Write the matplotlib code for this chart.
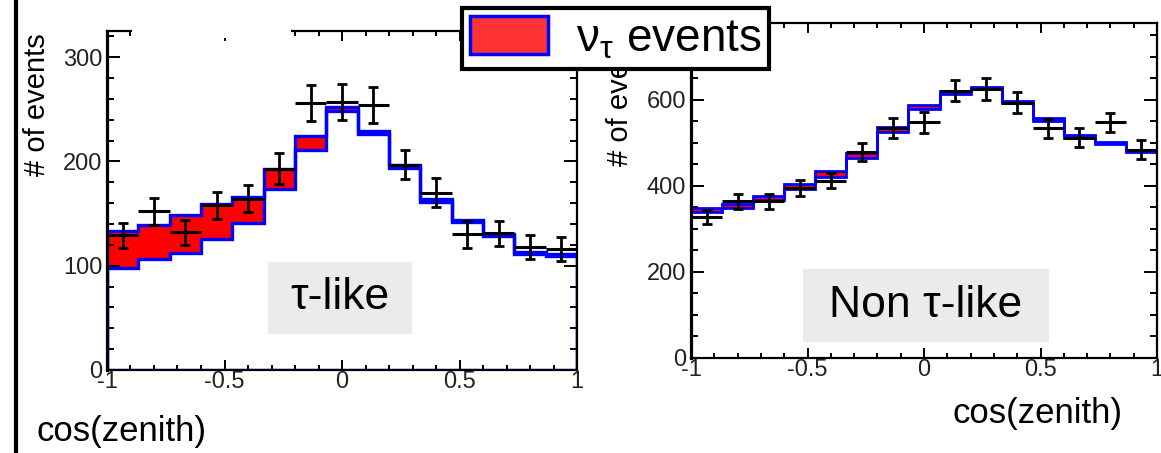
import numpy as np
import matplotlib
matplotlib.use("Agg")
import matplotlib.pyplot as plt
from matplotlib.patches import Patch, Rectangle
from matplotlib.lines import Line2D
from matplotlib.ticker import MultipleLocator, FormatStrFormatter

plt.rcParams['font.family'] = ['Liberation Sans', 'DejaVu Sans']
plt.rcParams['mathtext.fontset'] = 'custom'
plt.rcParams['mathtext.rm'] = 'Liberation Sans'
plt.rcParams['mathtext.it'] = 'Liberation Sans'
plt.rcParams['axes.unicode_minus'] = False

# 15 bins in cos(zenith)
bin_edges = np.linspace(-1, 1, 16)

# tau-like sample
tau_total = [133, 139, 149, 159, 166, 193, 224, 252, 229, 197, 164, 144, 130, 113, 111]
tau_bkg = [98, 106, 112, 126, 141, 174, 211, 248, 226, 194, 161, 142, 128, 111, 109]
tau_data = [129, 152, 132, 158, 164, 193, 256, 257, 254, 197, 170, 130, 131, 118, 116]
tau_err = [12, 13, 12, 13, 13, 15, 17, 17, 17, 14, 14, 13, 12, 11.5, 11.5]

# non tau-like sample
non_total = [349, 357, 377, 403, 434, 477, 537, 588, 620, 630, 597, 558, 518, 502, 482]
non_bkg = [339, 349, 366, 392, 420, 465, 524, 579, 612, 624, 592, 551, 512, 498, 478]
non_data = [327, 364, 364, 395, 412, 478, 535, 547, 621, 625, 593, 533, 512, 547, 484]
non_err = [16, 18, 18, 18, 18, 21, 23, 24, 25, 25, 24, 23, 23, 23, 22]

x_ticks = [-1, -0.5, 0, 0.5, 1]


def draw_panel(ax, total, bkg, data, err, ymax, ymajor, yminor, label, box, lw):
    centers = 0.5 * (bin_edges[:-1] + bin_edges[1:])
    half = 0.5 * np.diff(bin_edges)

    ax.stairs(total, bin_edges, baseline=bkg, fill=True, color='red', lw=0, zorder=1)
    ax.stairs(total, bin_edges, baseline=0, color='blue', lw=lw, zorder=2)
    ax.stairs(bkg, bin_edges, baseline=0, color='blue', lw=lw, zorder=2)
    ax.plot([bin_edges[0], bin_edges[-1]], [0, 0], color='blue', lw=lw, zorder=2)

    ax.errorbar(centers, data, yerr=err, fmt='none', ecolor='black',
                elinewidth=2.0, capsize=3.5, capthick=2.0, zorder=3)
    ax.errorbar(centers, data, xerr=half, fmt='none', ecolor='black',
                elinewidth=2.2, zorder=3)

    ax.set_xlim(-1, 1)
    ax.set_ylim(0, ymax)
    ax.set_xticks(x_ticks)
    ax.xaxis.set_major_formatter(FormatStrFormatter('%g'))
    ax.xaxis.set_minor_locator(MultipleLocator(0.1))
    ax.yaxis.set_major_locator(MultipleLocator(ymajor))
    ax.yaxis.set_minor_locator(MultipleLocator(yminor))
    ax.tick_params(which='both', direction='in', top=True, right=True,
                   width=1.4, labelsize=17, labelcolor='#222222')
    ax.tick_params(axis='x', which='major', length=7, pad=1)
    ax.tick_params(axis='x', which='minor', length=3.8)
    ax.tick_params(axis='y', which='major', length=9.5, pad=3.5)
    ax.tick_params(axis='y', which='minor', length=5)
    for sp in ax.spines.values():
        sp.set_linewidth(1.6)
    ax.spines['left'].set_linewidth(2.3)

    bx0, by0, bx1, by1 = box
    ax.add_patch(Rectangle((bx0, by0), bx1 - bx0, by1 - by0, transform=ax.transAxes,
                           facecolor='#ebebeb', edgecolor='none', zorder=0.5))
    ax.text(0.5 * (bx0 + bx1), 0.5 * (by0 + by1), label, transform=ax.transAxes,
            ha='center', va='center', fontsize=32, zorder=4)


fig = plt.figure(figsize=(11.61, 4.53), dpi=100)
W, H = 1161, 453

ax1 = fig.add_axes([107 / W, 1 - 370 / H, 470 / W, 339 / H])
ax2 = fig.add_axes([691 / W, 1 - 358 / H, 466 / W, 335 / H])

draw_panel(ax1, tau_total, tau_bkg, tau_data, tau_err, 325, 100, 20,
           'τ-like', (0.343, 0.106, 0.649, 0.319), 2.4)
draw_panel(ax2, non_total, non_bkg, non_data, non_err, 778, 200, 50,
           'Non τ-like', (0.240, 0.048, 0.768, 0.266), 2.0)

for ax in (ax1, ax2):
    ax.set_ylabel('# of events', fontsize=21)
ax1.yaxis.set_label_coords(-0.119, 0.782)
ax2.yaxis.set_label_coords(-0.122, 0.787)

ax1.set_xlabel('cos(zenith)', fontsize=25, ha='left')
ax1.xaxis.set_label_coords(-0.151, -0.133)
ax2.set_xlabel('cos(zenith)', fontsize=25, ha='right')
ax2.xaxis.set_label_coords(0.927, -0.116)

# slide border and the title box cutting the top of the left frame
fig.add_artist(Line2D([16 / W, 16 / W], [0, 1], color='black', lw=3))
fig.add_artist(Rectangle((132 / W, 1 - 38 / H), 159 / W, 38 / H,
                         facecolor='white', edgecolor='none', zorder=3))

handle = Patch(facecolor='#ff3333', edgecolor='blue', linewidth=2.5)
leg = fig.legend([handle], [r'$\mathrm{\nu_\tau}$ events'], loc='upper left',
                 bbox_to_anchor=(462 / W, 1 - 8 / H), bbox_transform=fig.transFigure,
                 borderaxespad=0, fontsize=33, handlelength=1.7, handleheight=0.9,
                 handletextpad=0.6, borderpad=0.18, fancybox=False, framealpha=1,
                 edgecolor='black')
leg.get_frame().set_linewidth(3)
leg.set_zorder(10)

fig.savefig('out.png', dpi=100)
